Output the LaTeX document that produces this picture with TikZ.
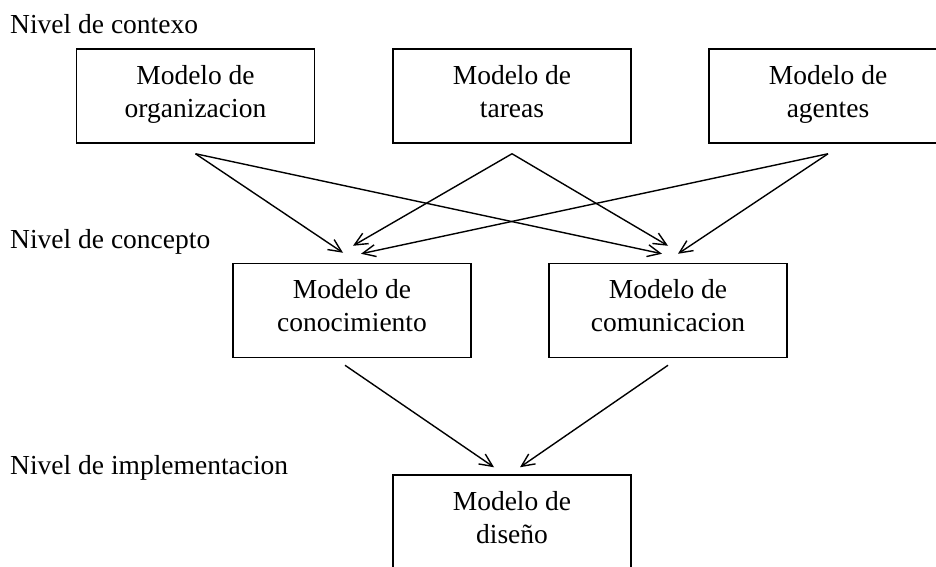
\documentclass[tikz,border=0pt]{standalone}
\usepackage{fontspec}
\setmainfont{Liberation Serif}
\usetikzlibrary{arrows.meta}

\begin{document}
\begin{tikzpicture}[x=1pt,y=-1pt,
	caja/.style={draw,line width=1.5pt,minimum width=238pt,minimum height=94pt,align=center,
		font=\fontsize{27.5}{33}\selectfont,execute at begin node={\rule{0pt}{28pt}},execute at end node=\strut},
	nivel/.style={anchor=base west,inner sep=0pt,font=\fontsize{27.5}{32}\selectfont},
	flecha/.style={line width=1.4pt,-{Straight Barb[length=13pt,width=12pt]}}]
		%%Location
		\useasboundingbox (0,0) rectangle (936,566);
		%%Levels
		\node[nivel] (contexto) at (10,33) {Nivel de contexo};
		\node[nivel] (concepto) at (10,248) {Nivel de concepto};
		\node[nivel] (implem) at (10,474) {Nivel de implementacion};
		
		%%Models
		\node[caja] (org) at (195.5,96) {Modelo de\\organizacion};
		\node[caja] (tareas) at (512,96) {Modelo de\\tareas};
		\node[caja] (agentes) at (828,96) {Modelo de\\agentes};
		\node[caja] (cono) at (352,310.5) {Modelo de\\conocimiento};
		\node[caja] (comu) at (668,310.5) {Modelo de\\comunicacion};
		\node[caja] (diseno) at (512,522) {Modelo de\\diseño};
		
		%%Arrows
		\draw[flecha] ([yshift=-10pt]org.south) -- ([xshift=-9pt,yshift=10pt]cono.north);
		\draw[flecha] ([yshift=-10pt]org.south) -- ([xshift=-6pt,yshift=9pt]comu.north);
		\draw[flecha] ([yshift=-10pt]tareas.south) -- ([xshift=1pt,yshift=17pt]cono.north);
		\draw[flecha] ([yshift=-10pt]tareas.south) -- ([yshift=17pt]comu.north);
		\draw[flecha] ([yshift=-10pt]agentes.south) -- ([xshift=9pt,yshift=9pt]cono.north);
		\draw[flecha] ([yshift=-10pt]agentes.south) -- ([xshift=10pt,yshift=9pt]comu.north);
		
		\draw[flecha] ([xshift=-7pt,yshift=-7pt]cono.south) -- ([xshift=-18pt,yshift=7pt]diseno.north);
		\draw[flecha] ([yshift=-7pt]comu.south) -- ([xshift=8pt,yshift=7pt]diseno.north);
\end{tikzpicture}
\end{document}
